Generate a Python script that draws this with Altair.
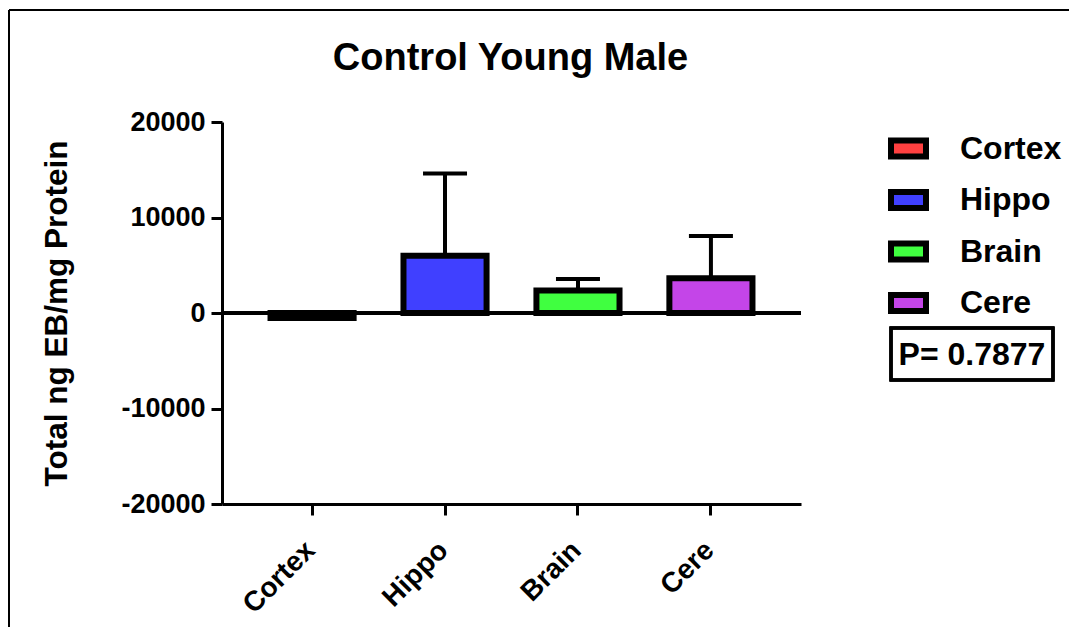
import altair as alt
import pandas as pd

regions = ["Cortex", "Hippo", "Brain", "Cere"]
means = [-520, 6000, 2350, 3630]
sems = [0, 8600, 1210, 4420]
colors = ["#FF4040", "#4040FF", "#40FF40", "#C445E8"]
y_ticks = [-20000, -10000, 0, 10000, 20000]
chart_title = "Control Young Male"
y_title = "Total ng EB/mg Protein"
p_text = "P= 0.7877"

df = pd.DataFrame({"region": regions, "mean": means, "sem": sems})
df["upper"] = df["mean"] + df["sem"]
err_df = df[df["sem"] > 0]

W, H = 579, 382
FONT = "Liberation Sans"

xenc = alt.X(
    "region:N",
    sort=regions,
    scale=alt.Scale(paddingInner=0.375, paddingOuter=0.365),
    axis=alt.Axis(
        title=None, labelAngle=-45, labelFontSize=28, labelFont=FONT,
        labelFontWeight="bold", labelColor="black", labelPadding=21,
        labelOffset=-11,
        tickSize=11, tickWidth=3, tickColor="black",
        domainWidth=3, domainColor="black", grid=False,
    ),
)
yscale = alt.Scale(domain=[-20000, 20000], nice=False, zero=False)
yenc = alt.Y(
    "mean:Q",
    scale=yscale,
    axis=alt.Axis(
        title=y_title, values=y_ticks, labelExpr="datum.value + ''",
        labelFontSize=27, labelFont=FONT, labelFontWeight="bold",
        labelColor="black", labelPadding=6, tickSize=11, tickWidth=3,
        tickColor="black", domainWidth=3, domainColor="black", grid=False,
        titleFont=FONT, titleFontSize=31.5, titleFontWeight="bold",
        titleColor="black", titleX=-181, titleY=H / 2,
        titleBaseline="top", titleAngle=-90,
    ),
)

zero = alt.Chart(df).mark_rule(color="black", strokeWidth=3.5).encode(
    y=alt.datum(0, scale=yscale)
)

bars = alt.Chart(df).mark_bar(stroke="black", strokeWidth=6, opacity=1).encode(
    x=xenc,
    y=yenc,
    color=alt.Color(
        "region:N",
        sort=regions,
        scale=alt.Scale(domain=regions, range=colors),
        legend=alt.Legend(
            title=None, orient="none", legendX=666, legendY=6,
            symbolType="M-1,-0.457L1,-0.457L1,0.457L-1,0.457Z",
            symbolSize=1225, symbolStrokeColor="black", symbolStrokeWidth=6,
            symbolOpacity=1, labelFontSize=32, labelFont=FONT,
            labelFontWeight="bold", labelColor="black", labelOffset=31,
            rowPadding=10.5, padding=0,
        ),
    ),
)

err = alt.Chart(err_df).mark_rule(color="black", strokeWidth=4).encode(
    x=alt.X("region:N", sort=regions),
    y=alt.Y("mean:Q", scale=yscale),
    y2="upper:Q",
)
caps = alt.Chart(err_df).mark_tick(
    color="black", orient="horizontal", size=44, thickness=4, opacity=1
).encode(
    x=alt.X("region:N", sort=regions),
    y=alt.Y("upper:Q", scale=yscale),
)

frame_left = alt.Chart(df).mark_rule(color="black", strokeWidth=2).encode(
    x=alt.value(-213), y=alt.value(-112), y2=alt.value(700)
)
frame_top = alt.Chart(df).mark_rule(color="black", strokeWidth=2).encode(
    x=alt.value(-213), x2=alt.value(1000), y=alt.value(-112)
)

title_mark = alt.Chart(pd.DataFrame({"t": [chart_title]})).mark_text(
    font=FONT, fontSize=38, fontWeight="bold", color="black",
    align="center", baseline="alphabetic",
).encode(text="t:N", x=alt.value(W / 2 - 1), y=alt.value(-52))

pbox = alt.Chart(df).mark_rect(
    filled=False, stroke="black", strokeWidth=3
).encode(
    x=alt.value(669), x2=alt.value(831), y=alt.value(206), y2=alt.value(258)
)
ptext = alt.Chart(pd.DataFrame({"t": [p_text]})).mark_text(
    font=FONT, fontSize=32, fontWeight="bold", color="black",
    align="center", baseline="middle",
).encode(text="t:N", x=alt.value(750), y=alt.value(233))

chart = (
    alt.layer(zero, bars, err, caps, frame_left, frame_top, title_mark, pbox, ptext)
    .properties(
        width=W, height=H,
        background="white",
        autosize=alt.AutoSizeParams(type="none"),
        padding={"left": 214, "top": 114, "right": 268, "bottom": 123},
    )
    .configure_view(stroke="transparent", strokeWidth=0, strokeOpacity=0)
)

chart.save("out.html", embed_options={"renderer": "svg", "actions": False})
